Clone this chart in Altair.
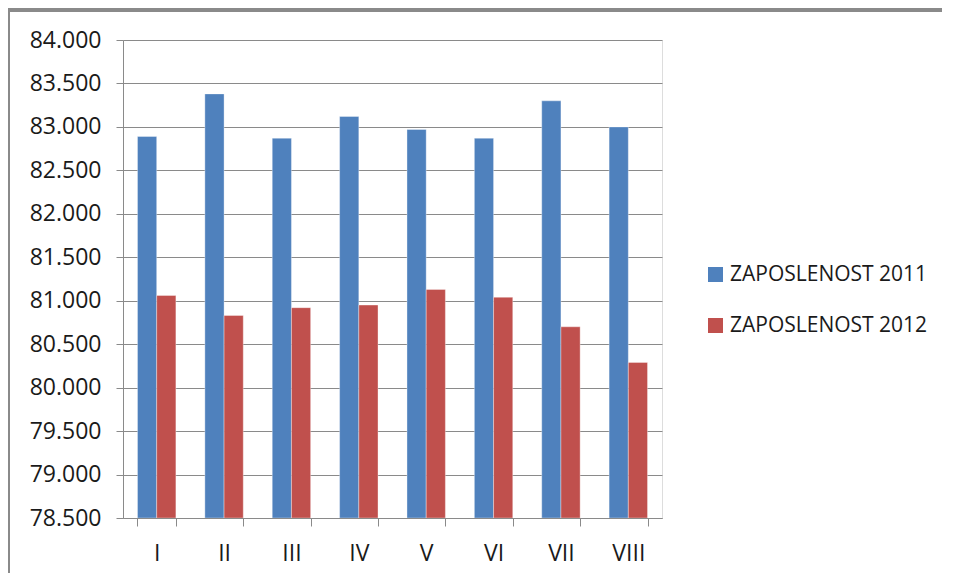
import altair as alt
import pandas as pd

months = ["I", "II", "III", "IV", "V", "VI", "VII", "VIII"]
series_names = ["ZAPOSLENOST 2011", "ZAPOSLENOST 2012"]
values_2011 = [82890, 83380, 82870, 83120, 82970, 82870, 83300, 83000]
values_2012 = [81060, 80830, 80920, 80950, 81130, 81040, 80700, 80290]
y_ticks = [78500, 79000, 79500, 80000, 80500, 81000, 81500, 82000, 82500, 83000, 83500, 84000]
colors = ["#4F81BD", "#C0504D"]

rows = []
for m, a, b in zip(months, values_2011, values_2012):
    rows.append({"month": m, "series": series_names[0], "value": a})
    rows.append({"month": m, "series": series_names[1], "value": b})
df = pd.DataFrame(rows)

FONT = "Open Sans"
GRID = "#8a8a8a"

bars = alt.Chart(df).mark_bar(clip=True, stroke="#ffffff", strokeOpacity=0.35, strokeWidth=1).encode(
    x=alt.X("month:N", sort=months, title=None,
            scale=alt.Scale(paddingInner=0.43, paddingOuter=0.215),
            axis=alt.Axis(labelAngle=0, tickBand="extent", tickSize=8, tickColor=GRID,
                          domainColor=GRID, labelPadding=16, labelFontSize=23,
                          labelFont=FONT, labelColor="#1a1a1a", grid=False)),
    xOffset=alt.XOffset("series:N", sort=series_names,
                        scale=alt.Scale(paddingInner=0, paddingOuter=0)),
    y=alt.Y("value:Q", title=None,
            scale=alt.Scale(domain=[78500, 84000], zero=False, nice=False),
            axis=alt.Axis(values=y_ticks, tickSize=7, tickColor=GRID, domainColor=GRID,
                          gridColor=GRID, labelPadding=15, labelFontSize=23, labelFont=FONT,
                          labelColor="#1a1a1a",
                          labelExpr="replace(format(datum.value, ','), ',', '.')")),
    y2=alt.Y2(datum=78500),
    color=alt.Color("series:N", sort=series_names,
                    scale=alt.Scale(domain=series_names, range=colors),
                    legend=alt.Legend(title=None, orient="none", legendX=582, legendY=224,
                                      symbolType="square", symbolSize=225,
                                      symbolStrokeWidth=0, labelFont=FONT,
                                      labelFontSize=21, labelColor="#1a1a1a",
                                      labelLimit=0, rowPadding=29, labelOffset=4)),
)

border_left = alt.Chart(df).mark_rule(color="#8a8a8a", strokeWidth=3).encode(
    x=alt.value(-115), y=alt.value(-31), y2=alt.value(560)
)
border_top = alt.Chart(df).mark_rule(color="#8a8a8a", strokeWidth=3).encode(
    x=alt.value(-116), x2=alt.value(840), y=alt.value(-30)
)

chart = alt.layer(bars, border_left, border_top).properties(
    width=539, height=478,
    autosize=alt.AutoSizeParams(type="none"),
    padding={"left": 115, "top": 32, "right": 280, "bottom": 55},
).configure_view(stroke=None).configure(background="white")

chart.save("out.html", embed_options={"renderer": "svg", "actions": False})
